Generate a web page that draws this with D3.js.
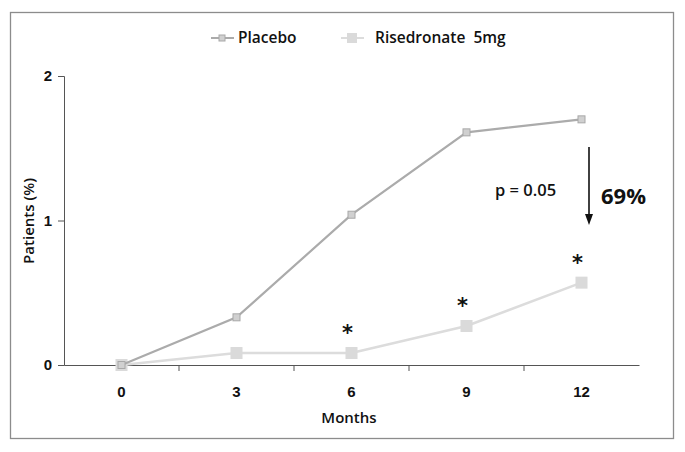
<!DOCTYPE html>
<html><head><meta charset="utf-8">
<script src="https://cdn.jsdelivr.net/npm/d3@7"></script>
<style>
html,body{margin:0;padding:0;background:#fff;}
svg{display:block;font-family:"Open Sans",sans-serif;}
</style></head>
<body>
<svg id="chart" width="685" height="452"></svg>
<script>
const months = ["0","3","6","9","12"];
const placebo = [0, 0.33, 1.04, 1.61, 1.70];
const risedronate = [0, 0.083, 0.083, 0.27, 0.57];
const yTicks = [0, 1, 2];
const starIdx = [2, 3, 4];
const seriesNames = ["Placebo", "Risedronate  5mg"];

const svg = d3.select("#chart");
svg.append("rect").attr("x",10.5).attr("y",12.5).attr("width",663).attr("height",426)
  .attr("fill","#fff").attr("stroke","#8c8c8c").attr("stroke-width",1.3);

const x = d3.scaleBand().domain(months).range([64, 639]);
const y = d3.scaleLinear().domain([0, 2]).range([365, 76]);
const cx = d => x(d) + x.bandwidth()/2;

const yAxis = svg.append("g").attr("transform","translate(64,0)")
  .call(d3.axisLeft(y).tickValues(yTicks).tickSize(6).tickPadding(6).tickFormat(d3.format("d")));
const xAxis = svg.append("g").attr("transform","translate(0,365)")
  .call(d3.axisBottom(x).tickSize(0).tickPadding(21));
[yAxis, xAxis].forEach(a => {
  a.select(".domain").attr("stroke","#555").attr("stroke-width",1);
  a.selectAll(".tick line").attr("stroke","#555");
  a.selectAll("text").attr("fill","#111").attr("font-size",15).attr("font-weight","600");
});
xAxis.selectAll(".boundary").data(months.slice(1)).enter().append("line")
  .attr("x1", d => x(d)).attr("x2", d => x(d)).attr("y1",0).attr("y2",6)
  .attr("stroke","#555");

svg.append("text").attr("x",349).attr("y",423).attr("text-anchor","middle")
  .attr("font-size",15).attr("font-weight","600").attr("fill","#111").text("Months");
svg.append("text").attr("transform","translate(34,221) rotate(-90)").attr("text-anchor","middle")
  .attr("font-size",15).attr("font-weight","600").attr("fill","#111").text("Patients (%)");

const line = d3.line().x((d,i) => cx(months[i])).y(d => y(d));

svg.append("path").datum(risedronate).attr("d", line).attr("fill","none")
  .attr("stroke","#dcdcdc").attr("stroke-width",2.5);
svg.selectAll(".rm").data(risedronate).enter().append("rect")
  .attr("x",(d,i)=>cx(months[i])-6).attr("y",d=>y(d)-6).attr("width",12).attr("height",12)
  .attr("fill","#dadada");

svg.append("path").datum(placebo).attr("d", line).attr("fill","none")
  .attr("stroke","#ababab").attr("stroke-width",2.2);
svg.selectAll(".pm").data(placebo).enter().append("rect")
  .attr("x",(d,i)=>cx(months[i])-3.5).attr("y",d=>y(d)-3.5).attr("width",7).attr("height",7)
  .attr("fill","#d0d0d0").attr("stroke","#a8a8a8").attr("stroke-width",1);

svg.selectAll(".star").data(starIdx).enter().append("text")
  .attr("x", i => cx(months[i])-4).attr("y", i => y(risedronate[i]) - 13)
  .attr("text-anchor","middle").attr("font-size",21).attr("font-weight","bold").attr("fill","#111")
  .attr("font-family","DejaVu Sans").text("*");

svg.append("text").attr("x",495).attr("y",196).attr("font-size",16.5).attr("fill","#111")
  .attr("font-weight","600").text("p = 0.05");
svg.append("text").attr("x",601).attr("y",204).attr("font-size",22).attr("font-weight","bold")
  .attr("fill","#111").text("69%");
svg.append("line").attr("x1",589).attr("x2",589).attr("y1",147).attr("y2",216)
  .attr("stroke","#111").attr("stroke-width",1.6);
svg.append("path").attr("d","M585,214 L593,214 L589,225 Z").attr("fill","#111");

const lg = svg.append("g");
lg.append("line").attr("x1",211).attr("x2",234).attr("y1",38).attr("y2",38).attr("stroke","#ababab").attr("stroke-width",2);
lg.append("rect").attr("x",219).attr("y",35).attr("width",6).attr("height",6).attr("fill","#d0d0d0").attr("stroke","#a8a8a8");
lg.append("text").attr("x",238).attr("y",43).attr("font-size",15.5).attr("font-weight","600").attr("fill","#111").text(seriesNames[0]);
lg.append("line").attr("x1",341).attr("x2",364).attr("y1",38).attr("y2",38).attr("stroke","#dcdcdc").attr("stroke-width",2);
lg.append("rect").attr("x",347).attr("y",33).attr("width",10).attr("height",10).attr("fill","#dadada");
lg.append("text").attr("x",375).attr("y",43).attr("font-size",15.5).attr("font-weight","600").attr("fill","#111")
  .style("white-space","pre").text(seriesNames[1]);
</script>
</body></html>
